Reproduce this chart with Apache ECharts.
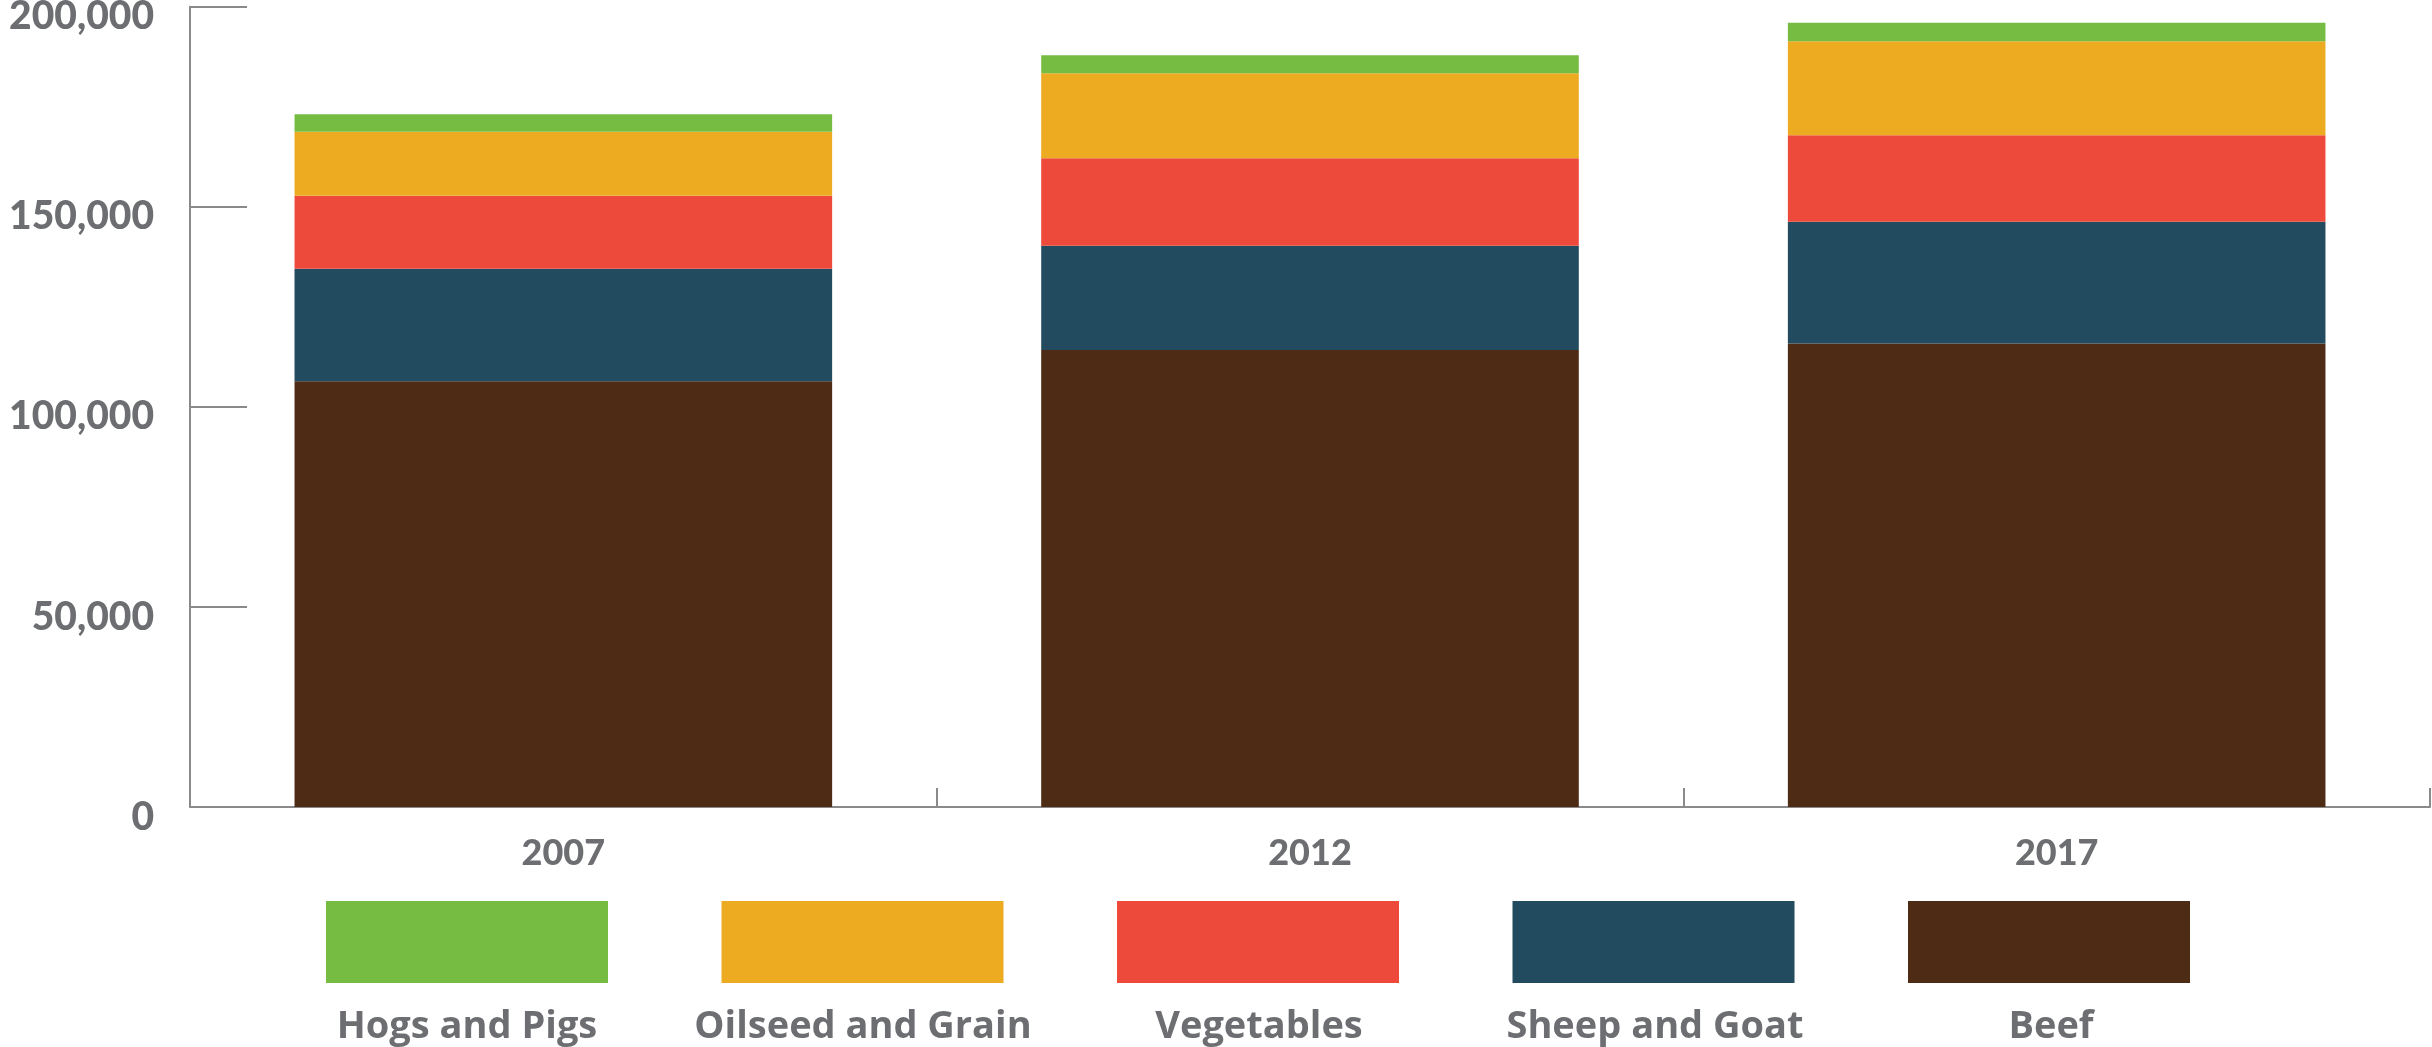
<!DOCTYPE html>
<html>
<head>
<meta charset="utf-8">
<title>Farm sales by commodity</title>
<script src="https://cdn.jsdelivr.net/npm/echarts@6/dist/echarts.min.js"></script>
<style>
  html, body { margin: 0; padding: 0; background: #ffffff; }
  #chart { width: 2432px; height: 1047px; }
</style>
</head>
<body>
<div id="chart"></div>
<script>
// Census years on the category axis
const years = ['2007', '2012', '2017'];

// Values per commodity, stacked bottom to top
const beef      = [106400, 114200, 115850];
const sheepGoat = [28100, 26050, 30400];
const vegetables = [18250, 21850, 21650];
const oilseedGrain = [16000, 21250, 23450];
const hogsPigs  = [4350, 4500, 4650];

// Value-axis ticks
const yTicks = [0, 50000, 100000, 150000, 200000];

// Legend order (top of stack first)
const legendNames = ['Hogs and Pigs', 'Oilseed and Grain', 'Vegetables', 'Sheep and Goat', 'Beef'];

const colors = {
  'Beef': '#4e2b15',
  'Sheep and Goat': '#224b5f',
  'Vegetables': '#ee4a3c',
  'Oilseed and Grain': '#ecab20',
  'Hogs and Pigs': '#76bc43'
};

const textGray = '#6d6e71';
const axisGray = '#8a8a8a';
const fontFamily = 'Lato, "Open Sans", sans-serif';
const legendFont = '"Open Sans", Lato, sans-serif';

const seriesDefs = [
  ['Beef', beef],
  ['Sheep and Goat', sheepGoat],
  ['Vegetables', vegetables],
  ['Oilseed and Grain', oilseedGrain],
  ['Hogs and Pigs', hogsPigs]
];

const chart = echarts.init(document.getElementById('chart'), null, { renderer: 'canvas' });

const option = {
  animation: false,
  backgroundColor: '#ffffff',
  grid: { left: 190, right: 2, top: 6.7, bottom: 240, containLabel: false, outerBoundsMode: 'none' },
  legend: [
    {
      // colour swatches
      data: legendNames,
      left: 326,
      top: 901,
      padding: 0,
      orient: 'horizontal',
      icon: 'rect',
      itemWidth: 282,
      itemHeight: 82,
      itemGap: 113.5,
      formatter: () => '',
      selectedMode: false
    },
    {
      // names centred under each swatch
      data: legendNames,
      left: 266.5,
      top: 1008,
      padding: 0,
      orient: 'horizontal',
      icon: 'rect',
      itemWidth: 0,
      itemHeight: 0,
      itemGap: 0,
      itemStyle: { opacity: 0 },
      selectedMode: false,
      formatter: name => '{n|' + name + '}',
      textStyle: {
        rich: {
          n: {
            width: 391,
            align: 'center',
            fontFamily: legendFont,
            fontWeight: 'bold',
            fontSize: 38,
            color: textGray,
            lineHeight: 44
          }
        }
      }
    }
  ],
  xAxis: {
    type: 'category',
    data: years,
    boundaryGap: true,
    axisLine: { show: true, lineStyle: { color: axisGray, width: 2 } },
    axisTick: { show: true, inside: true, length: 19, alignWithLabel: false, lineStyle: { color: axisGray, width: 2 } },
    axisLabel: {
      fontFamily: fontFamily,
      fontWeight: 900,
      fontSize: 36,
      color: textGray,
      margin: 28
    },
    splitLine: { show: false }
  },
  yAxis: {
    type: 'value',
    min: yTicks[0],
    max: yTicks[yTicks.length - 1],
    interval: yTicks[1] - yTicks[0],
    axisLine: { show: true, lineStyle: { color: axisGray, width: 2 } },
    axisTick: { show: true, inside: true, length: 57, lineStyle: { color: axisGray, width: 2 } },
    axisLabel: {
      margin: 36,
      verticalAlign: 'middle',
      // tick values sit slightly below their tick marks
      formatter: v => '{v|' + v.toLocaleString('en-US') + '}',
      rich: {
        v: {
          fontFamily: fontFamily,
          fontWeight: 900,
          fontSize: 39,
          color: textGray,
          padding: [20, 0, 0, 0]
        }
      }
    },
    splitLine: { show: false }
  },
  series: seriesDefs.map(([name, values]) => ({
    name: name,
    type: 'bar',
    stack: 'total',
    data: values,
    barCategoryGap: '28%',
    itemStyle: { color: colors[name] },
    emphasis: { disabled: true }
  }))
};

chart.setOption(option);
</script>
</body>
</html>
